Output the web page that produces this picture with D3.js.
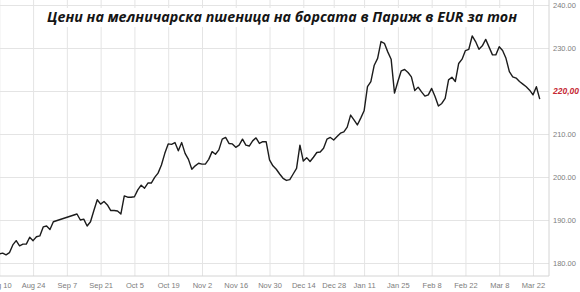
<!DOCTYPE html>
<html lang="bg">
<head>
    <meta charset="utf-8" />
    <title>Цени на мелничарска пшеница</title>
    <script src="https://d3js.org/d3.v7.min.js"></script>
    <style>
        body { margin: 0; background: #fff; }
        .axis text { font: 7.5px "Liberation Sans", Arial, sans-serif; fill: #7d7d7d; }
        .axis line { stroke: #e4e4e4; }
        .axis .domain { display: none; }
        .title { font: italic bold 15px "Open Sans", sans-serif; fill: #151515; }
        .last-label { font: italic bold 8.5px "Liberation Sans", Arial, sans-serif; fill: #c62a35; }
    </style>
</head>
<body>
<svg width="580" height="292"></svg>
<script>
    // trading days (Euronext closed Dec 25 and Jan 1)
    const days = [
        "2020-08-10","2020-08-11","2020-08-12","2020-08-13","2020-08-14","2020-08-17","2020-08-18","2020-08-19","2020-08-20","2020-08-21",
        "2020-08-24","2020-08-25","2020-08-26","2020-08-27","2020-08-28","2020-08-31","2020-09-01","2020-09-02","2020-09-03","2020-09-04",
        "2020-09-07","2020-09-08","2020-09-09","2020-09-10","2020-09-11","2020-09-14","2020-09-15","2020-09-16","2020-09-17","2020-09-18",
        "2020-09-21","2020-09-22","2020-09-23","2020-09-24","2020-09-25","2020-09-28","2020-09-29","2020-09-30","2020-10-01","2020-10-02",
        "2020-10-05","2020-10-06","2020-10-07","2020-10-08","2020-10-09","2020-10-12","2020-10-13","2020-10-14","2020-10-15","2020-10-16",
        "2020-10-19","2020-10-20","2020-10-21","2020-10-22","2020-10-23","2020-10-26","2020-10-27","2020-10-28","2020-10-29","2020-10-30",
        "2020-11-02","2020-11-03","2020-11-04","2020-11-05","2020-11-06","2020-11-09","2020-11-10","2020-11-11","2020-11-12","2020-11-13",
        "2020-11-16","2020-11-17","2020-11-18","2020-11-19","2020-11-20","2020-11-23","2020-11-24","2020-11-25","2020-11-26","2020-11-27",
        "2020-11-30","2020-12-01","2020-12-02","2020-12-03","2020-12-04","2020-12-07","2020-12-08","2020-12-09","2020-12-10","2020-12-11",
        "2020-12-14","2020-12-15","2020-12-16","2020-12-17","2020-12-18","2020-12-21","2020-12-22","2020-12-23","2020-12-24","2020-12-28",
        "2020-12-29","2020-12-30","2020-12-31","2021-01-04","2021-01-05","2021-01-06","2021-01-07","2021-01-08","2021-01-11","2021-01-12",
        "2021-01-13","2021-01-14","2021-01-15","2021-01-18","2021-01-19","2021-01-20","2021-01-21","2021-01-22","2021-01-25","2021-01-26",
        "2021-01-27","2021-01-28","2021-01-29","2021-02-01","2021-02-02","2021-02-03","2021-02-04","2021-02-05","2021-02-08","2021-02-09",
        "2021-02-10","2021-02-11","2021-02-12","2021-02-15","2021-02-16","2021-02-17","2021-02-18","2021-02-19","2021-02-22","2021-02-23",
        "2021-02-24","2021-02-25","2021-02-26","2021-03-01","2021-03-02","2021-03-03","2021-03-04","2021-03-05","2021-03-08","2021-03-09",
        "2021-03-10","2021-03-11","2021-03-12","2021-03-15","2021-03-16","2021-03-17","2021-03-18","2021-03-19","2021-03-22","2021-03-23",
        "2021-03-24"
    ];

    // EUR per ton (null = no quote, line is joined straight)
    const prices = [
        182.1,182.3,181.9,182.4,184.2,185.2,184.0,184.4,184.4,186.0,
        185.2,186.1,186.3,188.4,188.6,187.8,189.6,null,null,null,
        null,null,null,191.4,190.0,190.2,188.6,189.6,192.2,194.7,
        193.7,194.3,193.5,192.2,192.2,192.1,191.4,195.6,195.3,195.3,
        195.4,197.0,198.1,197.4,198.6,198.6,199.9,200.9,202.8,205.5,
        207.7,207.6,208.0,206.1,208.0,205.5,204.1,201.8,202.6,203.2,
        203.0,203.0,204.1,205.9,205.3,206.3,208.8,209.2,207.8,207.7,
        206.9,207.4,208.8,207.4,207.2,208.4,209.1,207.8,208.2,208.2,
        204.0,202.6,201.8,200.7,199.7,199.2,199.4,200.7,202.0,207.4,
        203.7,204.5,203.6,204.6,205.7,205.8,206.7,208.8,209.2,208.6,
        209.4,210.2,210.5,211.6,214.4,213.3,212.1,213.7,215.4,221.0,
        222.2,226.0,227.6,231.5,231.1,229.1,227.4,219.5,222.2,224.7,
        225.0,224.3,223.3,220.1,220.9,219.8,218.8,219.1,220.6,218.7,
        216.5,217.1,218.3,222.6,223.2,222.2,226.4,227.4,229.4,229.7,
        232.8,231.5,229.7,230.5,232.0,230.2,228.4,228.4,230.3,229.4,
        227.6,224.5,223.3,223.0,222.2,221.6,221.0,220.2,219.1,221.0,
        218.1
    ];

    const tickDays = ["2020-08-10","2020-08-24","2020-09-07","2020-09-21","2020-10-05","2020-10-19","2020-11-02","2020-11-16",
        "2020-11-30","2020-12-14","2020-12-28","2021-01-11","2021-01-25","2021-02-08","2021-02-22","2021-03-08","2021-03-22"];
    const tickLabels = ["Aug 10","Aug 24","Sep 7","Sep 21","Oct 5","Oct 19","Nov 2","Nov 16",
        "Nov 30","Dec 14","Dec 28","Jan 11","Jan 25","Feb 8","Feb 22","Mar 8","Mar 22"];
    const yTicks = [180, 190, 200, 210, 220, 230, 240];
    const lastValue = 220;
    const lastLabel = "220,00";
    const title = "Цени на мелничарска пшеница на борсата в Париж в EUR за тон";

    const svg = d3.select("svg");
    const plot = { left: 0, right: 549, top: 0, bottom: 276 };

    const x = d3.scaleLinear()
        .domain([0, days.indexOf("2021-03-22")])
        .range([-0.7, 533]);

    const y = d3.scaleLinear()
        .domain([180, 240])
        .range([263, 5]);

    // vertical grid + date labels
    svg.append("g")
        .attr("class", "axis")
        .attr("transform", `translate(0,${plot.bottom})`)
        .call(d3.axisBottom(x)
            .tickValues(tickDays.map(d => days.indexOf(d)))
            .tickFormat((d, i) => tickLabels[i])
            .tickSize(-(plot.bottom - plot.top))
            .tickSizeOuter(0)
            .tickPadding(7));

    // horizontal grid + price labels
    svg.append("g")
        .attr("class", "axis")
        .attr("transform", `translate(${plot.right},0)`)
        .call(d3.axisRight(y)
            .tickValues(yTicks)
            .tickFormat(d => d === lastValue ? "" : d3.format(".2f")(d))
            .tickSize(-(plot.right - plot.left))
            .tickSizeOuter(0)
            .tickPadding(4));

    // frame: right and bottom edges
    svg.append("path")
        .attr("d", `M${plot.left},${plot.bottom}H${plot.right}V${plot.top}`)
        .attr("fill", "none")
        .attr("stroke", "#d4d4d4");

    // title with white box behind it
    svg.append("rect")
        .attr("x", 44).attr("y", 8)
        .attr("width", 478).attr("height", 19)
        .attr("fill", "#fff");

    svg.append("text")
        .attr("class", "title")
        .attr("x", 47)
        .attr("y", 22)
        .attr("textLength", 470)
        .attr("lengthAdjust", "spacingAndGlyphs")
        .text(title);

    const points = prices
        .map((v, i) => ({ i, v }))
        .filter(d => d.v !== null);

    svg.append("path")
        .datum(points)
        .attr("fill", "none")
        .attr("stroke", "#1c1c1c")
        .attr("stroke-width", 1.4)
        .attr("stroke-linejoin", "round")
        .attr("d", d3.line().x(d => x(d.i)).y(d => y(d.v)));

    svg.append("text")
        .attr("class", "last-label")
        .attr("x", plot.right + 4)
        .attr("y", y(lastValue))
        .attr("dy", "0.35em")
        .text(lastLabel);
</script>
</body>
</html>
